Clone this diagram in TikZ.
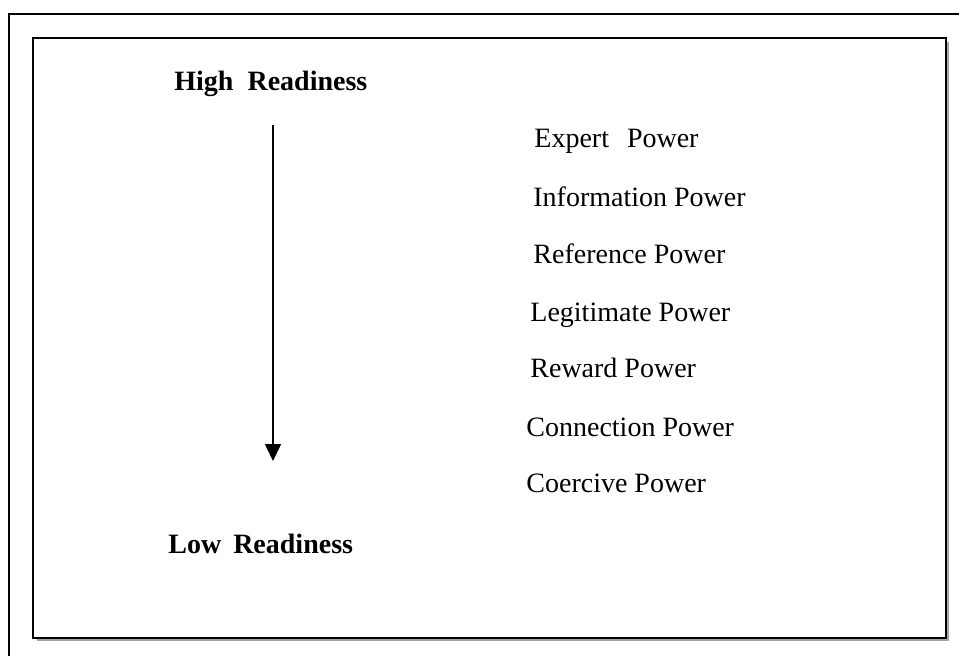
\documentclass[tikz,border=0pt]{standalone}
\usepackage{fontspec}
\setmainfont{Liberation Serif}
\usetikzlibrary{arrows.meta}

\tikzset{powerlabel/.style = {anchor=base west, inner sep=0pt, font=\fontsize{14}{16}\selectfont},
         readiness/.style  = {anchor=base west, inner sep=0pt, font=\fontsize{14}{16}\selectfont\bfseries},
         frame/.style      = {line width=1.25pt},
        }

\begin{document}
\begin{tikzpicture}[x=0.5pt, y=-0.5pt]
  \clip (0,0) rectangle (959,655);
  \fill[white] (0,0) rectangle (959,655);
  % frames
  \draw[line width=1pt] (9,14) rectangle (1000,700);
  \draw[line width=0.75pt, gray!70] (37,640) -- (948,640) -- (948,42);
  \draw[frame] (33,38) rectangle (946,638);
  % readiness scale
  \node[readiness] (high) at (174,90) {High\hspace{7pt}Readiness};
  \node[readiness] (low) at (168,553) {Low\hspace{6pt}Readiness};
  \coordinate (arrtop) at (273,125);
  \coordinate (arrbot) at (273,461);
  \draw[line width=0.75pt, -{Triangle[length=8.5pt, width=8pt]}] (arrtop) -- (arrbot);
  % power bases
  \node[powerlabel] (expert) at (534,147) {Expert\hspace{9pt}Power};
  \node[powerlabel] (info)   at (533,206) {Information Power};
  \node[powerlabel] (ref)    at (533,263) {Reference Power};
  \node[powerlabel] (legit)  at (530,321) {Legitimate Power};
  \node[powerlabel] (reward) at (530,377) {Reward Power};
  \node[powerlabel] (conn)   at (526,436) {Connection Power};
  \node[powerlabel] (coerc)  at (526,492) {Coercive Power};
\end{tikzpicture}
\end{document}
